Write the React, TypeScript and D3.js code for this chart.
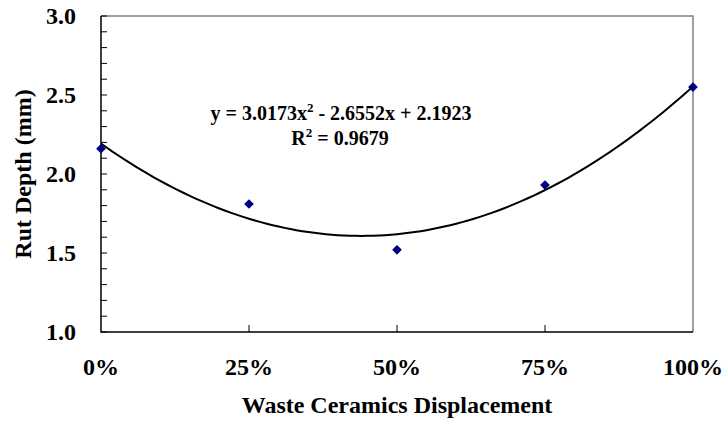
import { useEffect, useRef } from "react";
import * as d3 from "d3";

const categories = ["0%", "25%", "50%", "75%", "100%"];
const shares = [0, 0.25, 0.5, 0.75, 1];
const rutDepth = [2.16, 1.81, 1.52, 1.93, 2.55];
const yTicks = [1.0, 1.5, 2.0, 2.5, 3.0];
const fitCoef = [3.0173, -2.6552, 2.1923];

const W = 722;
const H = 423;
const M = { top: 16, right: 29, bottom: 91, left: 101 };
const FONT = "'Liberation Serif', 'Times New Roman', serif";

const App = () => {
  const svgRef = useRef<SVGSVGElement | null>(null);

  useEffect(() => {
    if (!svgRef.current) return;
    const svg = d3.select(svgRef.current);
    svg.selectAll("*").remove();

    const iw = W - M.left - M.right;
    const ih = H - M.top - M.bottom;

    const x = d3.scaleLinear().domain([0, 1]).range([0, iw]);
    const y = d3.scaleLinear().domain([1, 3]).range([ih, 0]);

    const g = svg.append("g").attr("transform", `translate(${M.left},${M.top})`);

    // frame: top + right gray
    g.append("path")
      .attr("d", `M0,0H${iw}V${ih}`)
      .attr("fill", "none")
      .attr("stroke", "#808080")
      .attr("stroke-width", 1.5);

    // y minor/major ticks (inside)
    const minor = d3.range(1, 3.0001, 0.1);
    g.selectAll(".ytick")
      .data(minor)
      .join("line")
      .attr("x1", 0)
      .attr("x2", 6)
      .attr("y1", (d) => y(d))
      .attr("y2", (d) => y(d))
      .attr("stroke", "#000")
      .attr("stroke-width", 1);

    // x ticks
    g.selectAll(".xtick")
      .data(shares.slice(1, -1))
      .join("line")
      .attr("x1", (d) => x(d))
      .attr("x2", (d) => x(d))
      .attr("y1", ih)
      .attr("y2", ih - 7)
      .attr("stroke", "#000")
      .attr("stroke-width", 1);

    // axes lines
    g.append("path")
      .attr("d", `M0,0V${ih}H${iw}`)
      .attr("fill", "none")
      .attr("stroke", "#000")
      .attr("stroke-width", 1.5);

    // y labels
    g.selectAll(".ylab")
      .data(yTicks)
      .join("text")
      .attr("x", -25)
      .attr("y", (d) => y(d) + 8)
      .attr("text-anchor", "end")
      .attr("font-family", FONT)
      .attr("font-weight", "bold")
      .attr("font-size", 24)
      .text((d) => d.toFixed(1));

    // x labels
    g.selectAll(".xlab")
      .data(categories)
      .join("text")
      .attr("x", (_, i) => x(shares[i]))
      .attr("y", ih + 43)
      .attr("text-anchor", "middle")
      .attr("font-family", FONT)
      .attr("font-weight", "bold")
      .attr("font-size", 24)
      .text((d) => d);

    // trendline
    const [a, b, c] = fitCoef;
    const line = d3
      .line<number>()
      .x((t) => x(t))
      .y((t) => y(a * t * t + b * t + c));
    g.append("path")
      .datum(d3.range(0, 1.0001, 0.01))
      .attr("d", line)
      .attr("fill", "none")
      .attr("stroke", "#000")
      .attr("stroke-width", 2);

    // markers
    const sym = d3.symbol().type(d3.symbolDiamond2).size(60);
    g.selectAll(".pt")
      .data(rutDepth)
      .join("path")
      .attr("d", sym)
      .attr("transform", (d, i) => `translate(${x(shares[i])},${y(d)})`)
      .attr("fill", "#000080");

    // equation
    const eq = svg
      .append("text")
      .attr("x", 341)
      .attr("y", 120)
      .attr("text-anchor", "middle")
      .attr("font-family", FONT)
      .attr("font-weight", "bold")
      .attr("font-size", 20);
    eq.append("tspan").text("y = 3.0173x");
    eq.append("tspan").attr("dy", -8).attr("font-size", 13).text("2");
    eq.append("tspan").attr("dy", 8).text(" - 2.6552x + 2.1923");

    const r2 = svg
      .append("text")
      .attr("x", 340)
      .attr("y", 145)
      .attr("text-anchor", "middle")
      .attr("font-family", FONT)
      .attr("font-weight", "bold")
      .attr("font-size", 20);
    r2.append("tspan").text("R");
    r2.append("tspan").attr("dy", -8).attr("font-size", 13).text("2");
    r2.append("tspan").attr("dy", 8).text(" = 0.9679");

    // axis titles
    svg
      .append("text")
      .attr("x", M.left + iw / 2)
      .attr("y", 413)
      .attr("text-anchor", "middle")
      .attr("font-family", FONT)
      .attr("font-weight", "bold")
      .attr("font-size", 24)
      .text("Waste Ceramics Displacement");

    svg
      .append("text")
      .attr("transform", `translate(31,${M.top + ih / 2}) rotate(-90)`)
      .attr("text-anchor", "middle")
      .attr("font-family", FONT)
      .attr("font-weight", "bold")
      .attr("font-size", 24)
      .text("Rut Depth (mm)");
  }, []);

  return (
    <svg
      ref={svgRef}
      width={W}
      height={H}
      style={{ position: "absolute", left: 0, top: 0, background: "#fff" }}
    />
  );
};

export default App;
